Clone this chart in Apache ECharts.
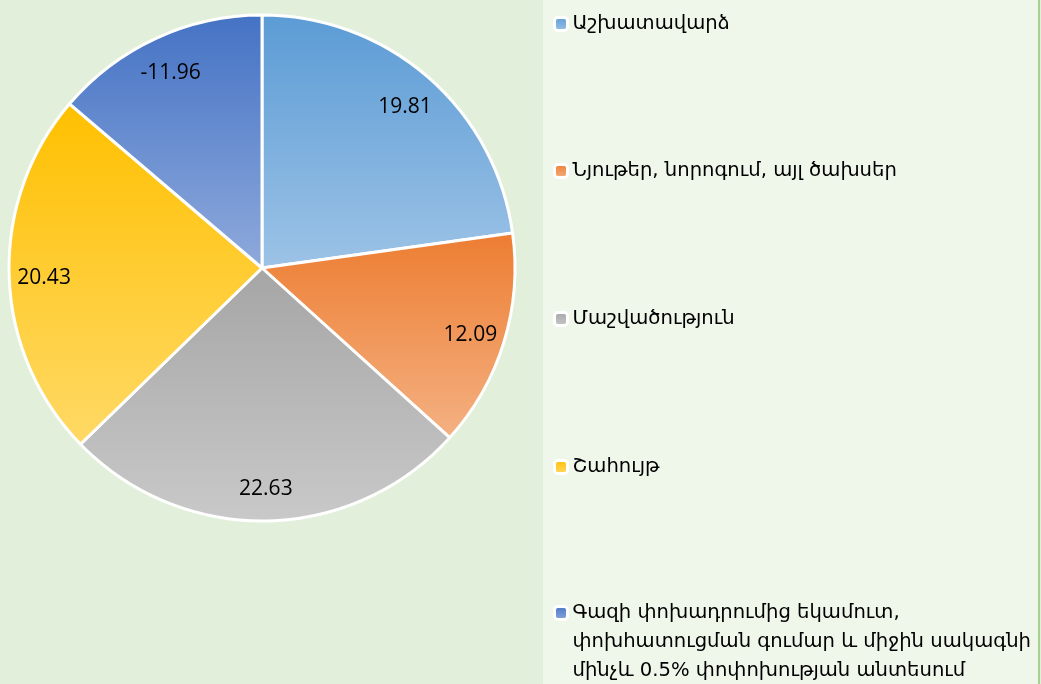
<!DOCTYPE html>
<html>
<head>
<meta charset="utf-8">
<script src="https://cdn.jsdelivr.net/npm/echarts@6/dist/echarts.min.js"></script>
<style>
  html, body { margin: 0; padding: 0; }
  #chart { width: 1041px; height: 684px; }
</style>
</head>
<body>
<div id="chart"></div>
<script>
// categories and values (one value is negative, the slice is drawn by its size)
const names = [
  'Աշխատավարձ',
  'Նյութեր, նորոգում, այլ ծախսեր',
  'Մաշվածություն',
  'Շահույթ',
  'Գազի փոխադրումից եկամուտ, փոխհատուցման գումար և միջին սակագնի մինչև 0.5% փոփոխության անտեսում'
]
const values = [19.81, 12.09, 22.63, 20.43, -11.96]
// legend text as it wraps in the picture
const legendText = [
  'Աշխատավարձ',
  'Նյութեր, նորոգում, այլ ծախսեր',
  'Մաշվածություն',
  'Շահույթ',
  // two empty lines on top so the marker sits on the first line
  '\n\nԳազի փոխադրումից եկամուտ,\nփոխհատուցման գումար և միջին սակագնի\nմինչև 0.5% փոփոխության անտեսում'
]
// gradient top / bottom colours per slice
const colorsTop = ['#5b9bd5', '#ed7d31', '#a5a5a5', '#ffc000', '#4472c4']
const colorsBottom = ['#9dc3e6', '#f4b183', '#c9c9c9', '#ffd966', '#8faadc']

const chart = echarts.init(document.getElementById('chart'))

const grad = (i) => new echarts.graphic.LinearGradient(0, 0, 0, 1, [
  { offset: 0, color: colorsTop[i] },
  { offset: 1, color: colorsBottom[i] }
])

const pieData = names.map((n, i) => ({
  name: n,
  value: Math.abs(values[i]),
  itemStyle: { color: grad(i) }
}))

// one legend per item so the gaps match the picture
const legendTops = [9.5, 156.5, 304.5, 452.5, 540.5]
const legends = legendTops.map((t, i) => ({
  data: [names[i]],
  left: 553,
  top: t,
  padding: 0,
  selectedMode: false,
  itemWidth: 13,
  itemHeight: 13,
  itemStyle: { borderColor: '#fff', borderWidth: 3 },
  formatter: () => legendText[i],
  textStyle: { fontFamily: 'DejaVu Sans', fontSize: 19.6, color: '#000', lineHeight: 29 }
}))

const option = {
  animation: false,
  backgroundColor: '#e2efda',
  graphic: [
    {
      type: 'rect',
      z: -10,
      shape: { x: 543, y: 0, width: 496, height: 684 },
      style: { fill: '#eff6ea' }
    },
    {
      type: 'rect',
      z: -10,
      shape: { x: 1038, y: 0, width: 2, height: 684 },
      style: { fill: '#a9d08e' }
    }
  ],
  legend: legends,
  series: [
    {
      type: 'pie',
      center: [262, 268],
      radius: [0, 253],
      startAngle: 90,
      clockwise: true,
      silent: true,
      itemStyle: { borderColor: '#fff', borderWidth: 3 },
      label: { show: false },
      labelLine: { show: false },
      emphasis: { disabled: true },
      data: pieData
    },
    {
      // transparent ring that only carries the labels near the rim
      type: 'pie',
      center: [262, 268],
      radius: [177, 253],
      startAngle: 90,
      clockwise: true,
      silent: true,
      itemStyle: { color: 'rgba(0,0,0,0)', borderWidth: 0 },
      label: {
        show: true,
        position: 'inside',
        offset: [0, 3],
        fontFamily: 'Open Sans',
        fontSize: 21,
        color: '#000',
        formatter: (p) => values[p.dataIndex].toFixed(2)
      },
      labelLine: { show: false },
      emphasis: { disabled: true },
      data: pieData.map(d => ({ name: d.name, value: d.value }))
    }
  ]
}

chart.setOption(option)
</script>
</body>
</html>
